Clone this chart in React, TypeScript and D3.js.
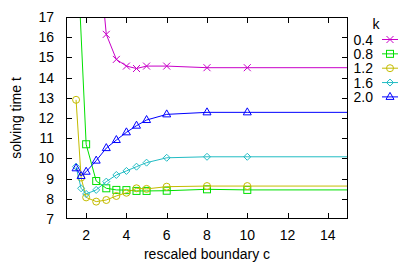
import React from "react";
import * as d3 from "d3";

const boundaries = [1.5, 1.75, 2, 2.5, 3, 3.5, 4, 4.5, 5, 6, 8, 10];
const kLabels = ["0.4", "0.8", "1.2", "1.6", "2.0"];
const time_k04 = [null, null, null, 21.5, 16.14, 14.9, 14.57, 14.45, 14.57, 14.57, 14.49, 14.49];
const time_k08 = [21.5, null, 10.7, 8.88, 8.52, 8.44, 8.43, 8.39, 8.39, 8.4, 8.47, 8.44];
const time_k12 = [12.9, 9.05, 8.07, 7.86, 7.94, 8.14, 8.3, 8.52, 8.49, 8.6, 8.63, 8.63];
const time_k16 = [9.59, 8.52, 8.24, 8.44, 8.85, 9.18, 9.38, 9.59, 9.79, 10.03, 10.08, 10.08];
const time_k20 = [9.51, 9.13, 9.34, 9.89, 10.51, 10.91, 11.29, 11.62, 11.9, 12.18, 12.28, 12.28];
const xTicks = [2, 4, 6, 8, 10, 12, 14];
const yTicks = [7, 8, 9, 10, 11, 12, 13, 14, 15, 16, 17];

const seriesValues = [time_k04, time_k08, time_k12, time_k16, time_k20];
const colors = ["#c800c8", "#00e000", "#c4bc00", "#22bcc4", "#0000ff"];
const shapes = ["cross", "square", "circle", "diamond", "triangle"];

const W = 415, H = 264;
const L = 66, R = 348, T = 17, B = 219;
const FONT = "'Liberation Sans', Arial, Helvetica, sans-serif";

function Marker({ shape, x, y, color }: { shape: string; x: number; y: number; color: string }) {
  const s = 3.5;
  const common = { fill: "none", stroke: color, strokeWidth: 1 };
  if (shape === "cross")
    return <path d={`M${x - s},${y - s}L${x + s},${y + s}M${x - s},${y + s}L${x + s},${y - s}`} {...common} />;
  if (shape === "square") return <rect x={x - s} y={y - s} width={2 * s} height={2 * s} {...common} />;
  if (shape === "circle") return <circle cx={x} cy={y} r={s} {...common} />;
  if (shape === "diamond")
    return <path d={`M${x},${y - s}L${x + s},${y}L${x},${y + s}L${x - s},${y}Z`} {...common} />;
  return <path d={`M${x},${y - 4.5}L${x + 4},${y + 2.5}L${x - 4},${y + 2.5}Z`} {...common} />;
}

export default function App() {
  const xs = d3.scaleLinear().domain([1, 15]).range([L, R]);
  const ys = d3.scaleLinear().domain([7, 17]).range([B, T]);
  const line = d3
    .line<[number, number]>()
    .x((d) => xs(d[0]))
    .y((d) => ys(d[1]));

  return (
    <svg width={W} height={H} style={{ position: "absolute", left: 0, top: 0, background: "#fff" }} fontFamily={FONT}>
      <defs>
        <clipPath id="plotclip">
          <rect x={L} y={T} width={R - L} height={B - T} />
        </clipPath>
      </defs>
      <rect x={0} y={0} width={W} height={H} fill="#fff" />
      {/* ticks */}
      <g stroke="#000" strokeWidth={1}>
        {yTicks.slice(1, -1).map((t) => (
          <g key={"y" + t}>
            <line x1={L} x2={L + 6} y1={Math.round(ys(t)) + 0.5} y2={Math.round(ys(t)) + 0.5} />
            <line x1={R - 6} x2={R} y1={Math.round(ys(t)) + 0.5} y2={Math.round(ys(t)) + 0.5} />
          </g>
        ))}
        {xTicks.map((t) => (
          <g key={"x" + t}>
            <line x1={Math.round(xs(t)) + 0.5} x2={Math.round(xs(t)) + 0.5} y1={B} y2={B - 6} />
            <line x1={Math.round(xs(t)) + 0.5} x2={Math.round(xs(t)) + 0.5} y1={T} y2={T + 6} />
          </g>
        ))}
      </g>
      {/* series */}
      <g clipPath="url(#plotclip)">
        {seriesValues.map((vals, i) => {
          const pts: [number, number][] = [];
          vals.forEach((v, j) => {
            if (v !== null) pts.push([boundaries[j], v as number]);
          });
          const last = pts[pts.length - 1];
          const linePts: [number, number][] = [...pts, [xs.domain()[1], last[1]]];
          return (
            <g key={"s" + i}>
              <path d={line(linePts) || ""} fill="none" stroke={colors[i]} strokeWidth={1} />
              {pts
                .filter((p) => p[1] <= 17)
                .map((p, j) => (
                  <Marker key={j} shape={shapes[i]} x={xs(p[0])} y={ys(p[1])} color={colors[i]} />
                ))}
            </g>
          );
        })}
      </g>
      {/* border */}
      <rect x={L + 0.5} y={T + 0.5} width={R - L - 1} height={B - T - 1} fill="none" stroke="#000" strokeWidth={1} />
      {/* tick labels */}
      <g fontSize={14} fill="#000">
        {yTicks.map((t) => (
          <text key={"yl" + t} x={L - 12} y={ys(t) + 5} textAnchor="end">
            {t}
          </text>
        ))}
        {xTicks.map((t) => (
          <text key={"xl" + t} x={xs(t)} y={240} textAnchor="middle">
            {t}
          </text>
        ))}
        <text x={(L + R) / 2} y={259} textAnchor="middle">
          rescaled boundary c
        </text>
        <text transform={`translate(21,${(T + B) / 2}) rotate(-90)`} textAnchor="middle">
          solving time t
        </text>
      </g>
      {/* legend */}
      <g fontSize={14} fill="#000">
        <text x={376} y={28.5} textAnchor="middle">
          k
        </text>
        {kLabels.map((k, i) => {
          const cy = 39.5 + i * 14.35;
          return (
            <g key={"lg" + k}>
              <text x={373} y={cy + 5} textAnchor="end">
                {k}
              </text>
              <line x1={382} x2={398} y1={cy} y2={cy} stroke={colors[i]} strokeWidth={1} />
              <Marker shape={shapes[i]} x={390} y={cy} color={colors[i]} />
            </g>
          );
        })}
      </g>
    </svg>
  );
}
